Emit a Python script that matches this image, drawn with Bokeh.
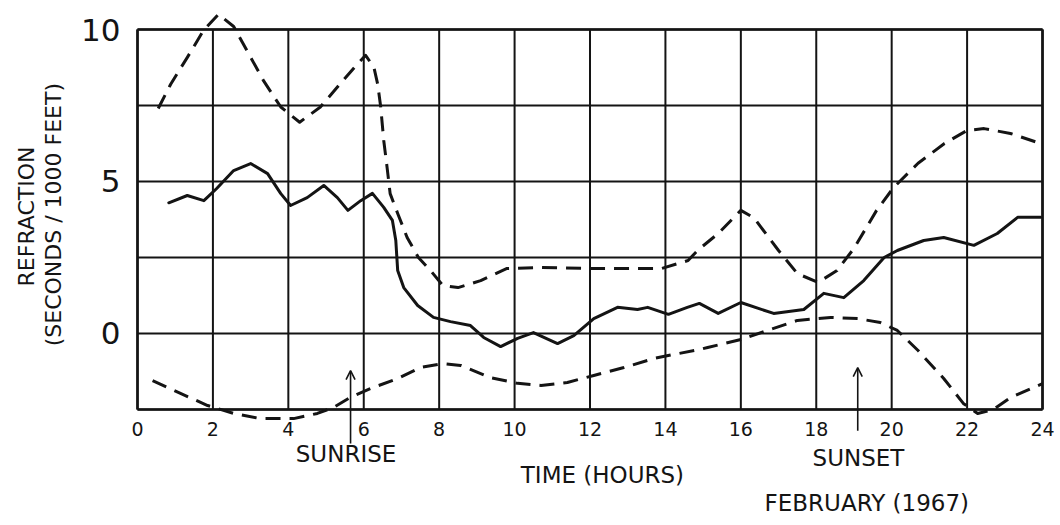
from math import pi

from bokeh.core.properties import value
from bokeh.embed import file_html
from bokeh.models import Arrow, OpenHead, Range1d
from bokeh.plotting import figure
from bokeh.resources import INLINE

# Hourly refraction record, February 1967 (seconds / 1000 feet)
upper_hours = [0.55, 0.88, 1.33, 1.75, 2.15, 2.55, 2.95, 3.35, 3.8, 4.3, 4.85, 5.4,
               5.75, 6.05, 6.27, 6.37, 6.45, 6.53, 6.62, 6.7, 6.9, 7.15, 7.45, 7.77,
               8.1, 8.5, 9.1, 9.8, 10.7, 12.0, 13.35, 13.9, 14.6, 14.85, 15.4, 16.0,
               16.35, 17.0, 17.5, 18.05, 18.55, 19.0, 19.6, 20.05, 20.7, 21.4, 22.0,
               22.45, 23.15, 23.95]
upper_values = [7.4, 8.2, 9.1, 9.97, 10.5, 10.1, 9.2, 8.3, 7.45, 6.95, 7.45, 8.25,
                8.75, 9.15, 8.75, 8.2, 7.45, 6.35, 5.45, 4.6, 3.95, 3.16, 2.5, 2.07,
                1.58, 1.51, 1.74, 2.14, 2.17, 2.14, 2.14, 2.14, 2.4, 2.73, 3.29, 4.05,
                3.8, 2.73, 1.97, 1.68, 2.07, 2.8, 4.05, 4.8, 5.6, 6.25, 6.68,
                6.74, 6.58, 6.25]

mean_hours = [0.83, 1.32, 1.76, 2.1, 2.55, 3.0, 3.45, 3.8, 4.06, 4.5, 4.94, 5.3,
              5.58, 5.92, 6.23, 6.53, 6.76, 6.85, 6.9, 7.06, 7.43, 7.85, 8.3, 8.83,
              9.18, 9.63, 10.08, 10.5, 11.14, 11.57, 12.1, 12.73, 13.26, 13.53, 14.08,
              14.58, 14.9, 15.4, 16.0, 16.87, 17.67, 18.2, 18.73, 19.26, 19.8, 20.15,
              20.85, 21.38, 22.18, 22.8, 23.34, 23.95]
mean_values = [4.3, 4.54, 4.37, 4.77, 5.36, 5.59, 5.26, 4.6, 4.21, 4.47, 4.87, 4.47,
               4.05, 4.37, 4.61, 4.15, 3.72, 3.06, 2.07, 1.51, 0.92, 0.53, 0.39, 0.26,
               -0.13, -0.43, -0.16, 0.03, -0.33, -0.07, 0.49, 0.86, 0.79, 0.86, 0.63,
               0.86, 0.99, 0.66, 1.02, 0.66, 0.79, 1.32, 1.18, 1.74, 2.5, 2.73,
               3.06, 3.16, 2.9, 3.29, 3.82, 3.82]

lower_hours = [0.4, 1.14, 1.86, 2.55, 3.26, 4.14, 4.77, 5.2, 5.65, 6.18, 6.9, 7.5,
               8.1, 8.57, 9.36, 10.08, 10.7, 11.4, 12.1, 12.9, 13.7, 14.22, 14.9,
               15.12, 16.0, 16.7, 17.5, 18.38, 19.1, 19.7, 20.15, 20.7, 21.38, 21.9,
               22.28, 22.7, 23.16, 24.0]
lower_values = [-1.55, -1.97, -2.37, -2.63, -2.8, -2.8, -2.63, -2.43, -2.1, -1.81,
                -1.48, -1.12, -0.99, -1.05, -1.45, -1.64, -1.71, -1.61, -1.38, -1.12,
                -0.82, -0.69, -0.53, -0.46, -0.2, 0.1, 0.43, 0.53, 0.49, 0.36, 0.1,
                -0.56, -1.48, -2.3, -2.63, -2.5, -2.1, -1.65]

hour_ticks = list(range(0, 25, 2))
hour_labels = [str(h) for h in hour_ticks]
refraction_grid = [-2.5, 0, 2.5, 5, 7.5, 10]
refraction_ticks = [0, 5, 10]
refraction_labels = ["0", "5", "10"]

SUNRISE_HOUR = 5.65
SUNSET_HOUR = 19.1

INK = "#141414"
FONT = "DejaVu Sans"

# The drawing area covers the whole page; the ruled chart sits inside it and
# the labels are placed in the same hour / refraction coordinates.
p = figure(width=1060, height=525, min_border=0,
           x_range=Range1d(-3.633, 24.477), y_range=Range1d(-6.316, 10.954),
           output_backend="svg", toolbar_location=None,
           background_fill_color="white", border_fill_color="white")
p.outline_line_color = None
p.grid.visible = False
p.axis.visible = False

g_lo, g_hi = refraction_grid[0], refraction_grid[-1]

# ruled grid
p.multi_line(xs=[[0, 24] for _ in refraction_grid],
             ys=[[v, v] for v in refraction_grid],
             line_color=INK, line_width=2)
p.multi_line(xs=[[h, h] for h in hour_ticks],
             ys=[[g_lo, g_hi] for _ in hour_ticks],
             line_color=INK, line_width=2)
p.multi_line(xs=[[0, 24], [0, 24], [0, 0], [24, 24]],
             ys=[[g_lo, g_lo], [g_hi, g_hi], [g_lo, g_hi], [g_lo, g_hi]],
             line_color=INK, line_width=2.6)

# refraction curves
p.line(upper_hours, upper_values, line_color=INK, line_width=3,
       line_dash="15 9", line_join="round")
p.line(mean_hours, mean_values, line_color=INK, line_width=3,
       line_join="round", line_cap="round")
p.line(lower_hours, lower_values, line_color=INK, line_width=3,
       line_dash="15 9", line_join="round")

# tick labels
p.text(x=hour_ticks, y=[-3.13] * len(hour_ticks), text=hour_labels,
       text_align="center", text_baseline="middle",
       text_font=value(FONT), text_font_size="19px", text_color=INK)
p.text(x=[-0.45] * len(refraction_ticks), y=refraction_ticks, text=refraction_labels,
       text_align="right", text_baseline="middle",
       text_font=value(FONT), text_font_size="31px", text_color=INK)

# sunrise / sunset markers
for hour, y0, y1 in [(SUNRISE_HOUR, -3.62, -1.22), (SUNSET_HOUR, -3.2, -1.12)]:
    p.add_layout(Arrow(end=OpenHead(size=9, line_width=1.6, line_color=INK),
                       x_start=hour, y_start=y0, x_end=hour, y_end=y1,
                       line_color=INK, line_width=1.6))

# captions
cap_text = ["SUNRISE", "SUNSET", "TIME (HOURS)", "FEBRUARY (1967)"]
cap_x = [5.53, 19.12, 12.33, 19.34]
cap_y = [-3.98, -4.08, -4.67, -5.59]
p.text(x=cap_x, y=cap_y, text=cap_text,
       text_align="center", text_baseline="middle",
       text_font=value(FONT), text_font_size="23px", text_color=INK)

p.text(x=[-2.94, -2.23], y=[3.85, 3.91],
       text=["REFRACTION", "(SECONDS / 1000 FEET)"], angle=pi / 2,
       text_align="center", text_baseline="middle",
       text_font=value(FONT), text_font_size="22px", text_color=INK)

open("out.html", "w").write(file_html(p, INLINE))
